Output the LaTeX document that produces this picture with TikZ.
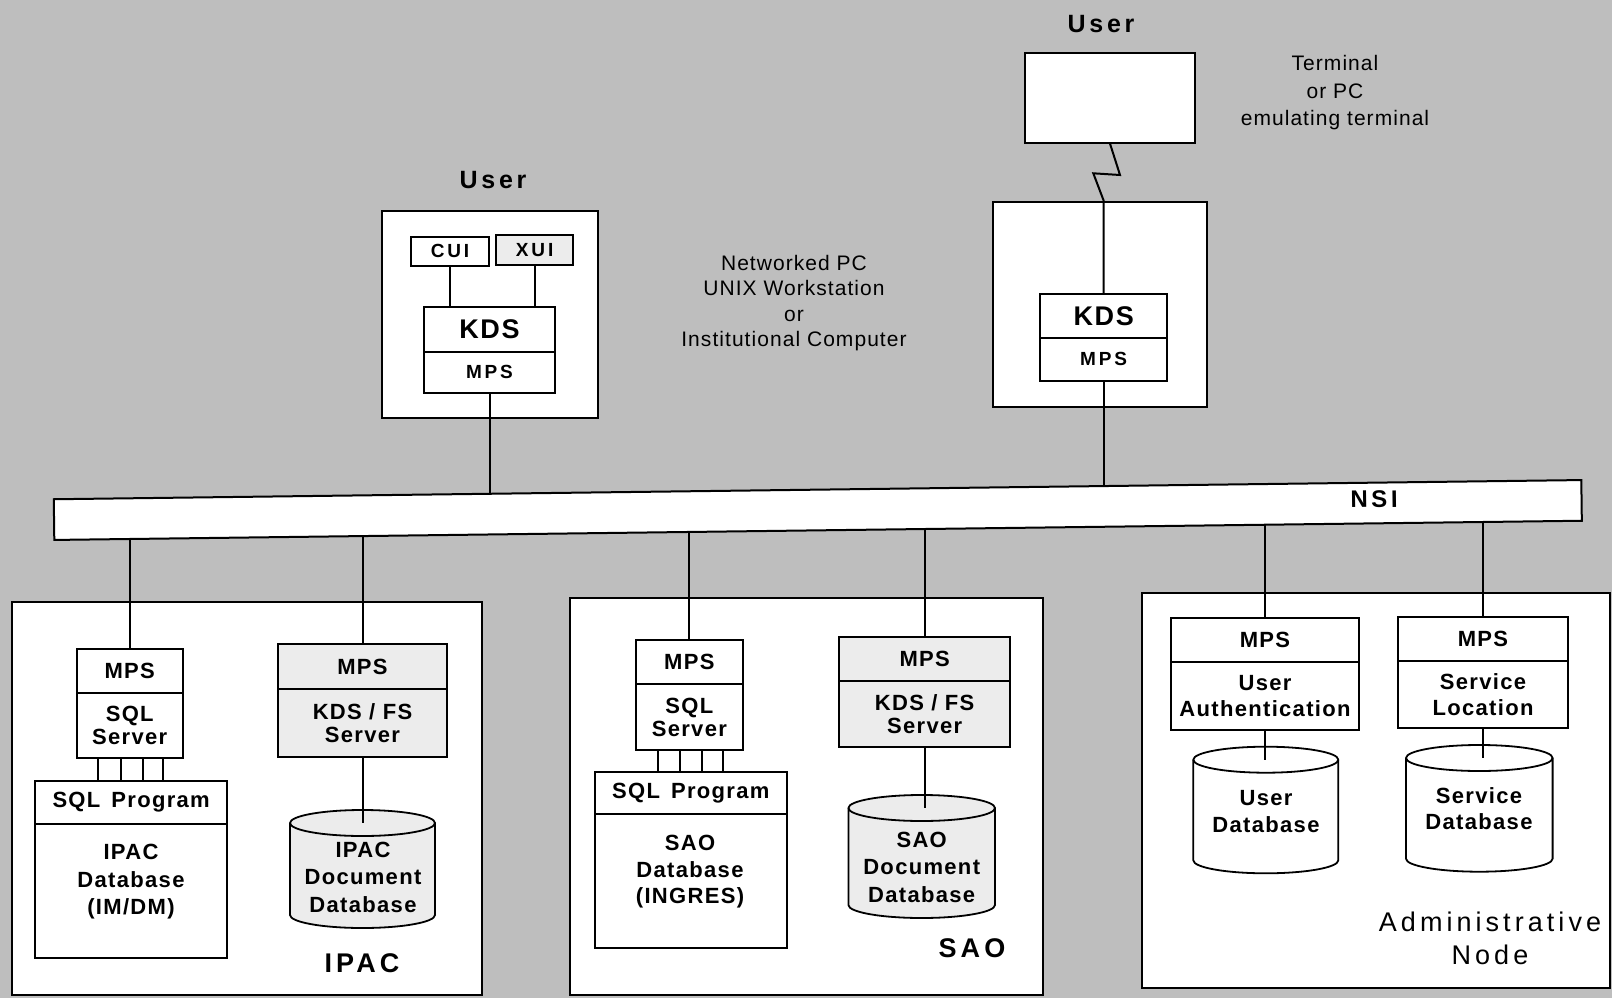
\documentclass[tikz,border=0pt]{standalone}
\usepackage{fontspec}
\setmainfont{Liberation Sans}
\newfontfamily\lblf[LetterSpace=6]{Liberation Sans}
\newfontfamily\widef[LetterSpace=15]{Liberation Sans}
\newfontfamily\thinf[LetterSpace=5]{Liberation Sans}
\usetikzlibrary{calc}
\pgfdeclarelayer{bg}
\pgfdeclarelayer{wires}
\pgfsetlayers{bg,wires,main}
\definecolor{paper}{RGB}{190,190,190}
\definecolor{stipc}{RGB}{236,236,236}
\newcommand\lbl{\lblf\bfseries\fontsize{22}{23}\selectfont}
\newcommand\biglbl{\lblf\bfseries\fontsize{27}{28}\selectfont}
\newcommand\smlbl{\widef\bfseries\fontsize{19}{20}\selectfont}
\newcommand\reglbl{\widef\fontsize{27}{33}\selectfont}
\newcommand\thintxt{\thinf\fontsize{21}{25.6}\selectfont}
\newcommand\bx[7][]{\node[box,minimum width={#4-#3},minimum height={#6-#5},#1] (#2) at ({(#3+#4)/2},{(#5+#6)/2}) {#7};}
\newcommand\dbcyl[6]{%
  \path[draw,line width=1.8pt,fill=#6] ({#2-#5},{#3+13}) -- ({#2-#5},{#4-13})
    arc[start angle=180,end angle=0,x radius=#5,y radius=13] -- ({#2+#5},{#3+13})
    arc[start angle=0,end angle=-180,x radius=#5,y radius=13] -- cycle;
  \draw[line width=1.8pt] ({#2-#5},{#3+13}) arc[start angle=180,end angle=0,x radius=#5,y radius=13];
  \coordinate (#1) at (#2,{#3+13});}
\tikzset{
  box/.style={draw,line width=1.8pt,fill=white,inner sep=0pt,align=center,font=\lbl},
  outer/.style={box,line width=2.2pt},
  wire/.style={line width=2pt},
  txt/.style={inner sep=0pt,align=center},
  stip/.style={fill=stipc},
}
\begin{document}
\begin{tikzpicture}[x=1pt,y=-1pt]
\useasboundingbox (0,0) rectangle (1612,998);
\begin{pgfonlayer}{bg}
\fill[paper] (0,0) rectangle (1612,998);
\bx[outer]{outer1}{381.7}{598.3}{210.7}{418.3}{}
\bx[outer]{outer2}{993.3}{1206.7}{201.7}{406.7}{}
\bx[outer]{ipac}{11.7}{481.7}{601.7}{995}{}
\bx[outer]{sao}{570}{1043.3}{598.3}{995}{}
\bx[outer]{adm}{1141.7}{1610}{593.3}{988.3}{}
\end{pgfonlayer}

% free texts
\node[txt,font=\widef\bfseries\fontsize{25}{25}\selectfont] (user1) at (493,180) {User};
\node[txt,font=\widef\bfseries\fontsize{25}{25}\selectfont] (user2) at (1101,24) {User};
\node[txt,font=\thintxt] (nettxt) at (794,303) {Networked PC\\UNIX Workstation\\or\\Institutional Computer};
\node[txt,font=\thinf\fontsize{21}{27.5}\selectfont] (termtxt) at (1335,93) {Terminal\\or PC\\emulating terminal};

% top-left user machine
\bx[font=\smlbl]{cui}{410.7}{489.3}{236.7}{265.7}{CUI}
\bx[font=\smlbl,stip]{xui}{496}{573.3}{235}{265}{XUI}
\bx[font=\biglbl]{kds1}{424}{555}{306.7}{351.7}{KDS}
\bx[font=\smlbl]{mps1}{424}{555}{351.7}{392.7}{MPS}

% top-right terminal user
\bx{term}{1025}{1195}{53.3}{142.7}{}
\bx[font=\biglbl]{kds2}{1040}{1167.3}{294}{337.7}{KDS}
\bx[font=\smlbl]{mps2}{1040}{1167.3}{337.7}{380.7}{MPS}

% NSI bar
\node[draw,line width=2pt,fill=white,rotate=0.72,minimum width=1527.7,minimum height=40.7,inner sep=0pt] (nsi) at (817.8,510) {};
\node[txt,rotate=0.72,font=\widef\bfseries\fontsize{24}{24}\selectfont] (nsit) at (1374,499) {NSI};

% IPAC
\bx{ipmps}{76.7}{182.7}{649.3}{693.3}{MPS}
\bx{ipsql}{76.7}{182.7}{693.3}{758.3}{SQL\\Server}
\bx{ipprog}{35}{227.3}{780.7}{824.3}{SQL\hspace{0.5em}Program}
\bx{ipdb}{35}{227.3}{824.3}{957.7}{}
\node[txt,font=\lblf\bfseries\fontsize{22}{27.5}\selectfont] (ipdbt) at (131,882) {IPAC\\Database\\(IM/DM)};
\bx[stip]{ipkmps}{278.3}{446.7}{644.3}{689}{MPS}
\bx[stip]{ipkds}{278.3}{446.7}{689}{756.7}{KDS / FS\\Server}
\dbcyl{ipdoc}{362.5}{810}{928}{72.5}{stipc}
\node[txt,font=\lblf\bfseries\fontsize{22}{27.5}\selectfont] (ipdoct) at (363,877) {IPAC\\Document\\Database};
\node[txt,font=\reglbl\bfseries] (ipacl) at (362,963) {IPAC};

% SAO
\bx{smps}{636}{742.7}{640}{684}{MPS}
\bx{ssql}{636}{742.7}{684}{750}{SQL\\Server}
\bx{sprog}{595}{786.7}{771.7}{814}{SQL\hspace{0.5em}Program}
\bx{sdb}{595}{786.7}{814}{948.3}{}
\node[txt,font=\lblf\bfseries\fontsize{22}{26.7}\selectfont] (sdbt) at (690,871.7) {SAO\\Database\\(INGRES)};
\bx[stip]{skmps}{839.3}{1010}{636.7}{680.7}{MPS}
\bx[stip]{skds}{839.3}{1010}{680.7}{747.3}{KDS / FS\\Server}
\dbcyl{sdoc}{921.7}{795}{918}{73.3}{stipc}
\node[txt,font=\lblf\bfseries\fontsize{22}{27.5}\selectfont] (sdoct) at (921.7,867) {SAO\\Document\\Database};
\node[txt,font=\reglbl\bfseries] (saol) at (972,948) {SAO};

% Administrative node
\bx{amps}{1170.7}{1359.3}{618.3}{661.7}{MPS}
\bx[font=\lblf\bfseries\fontsize{22}{25.7}\selectfont]{aua}{1170.7}{1359.3}{661.7}{730}{User\\Authentication}
\bx{bmps}{1397.7}{1568.3}{616.7}{660.7}{MPS}
\bx[font=\lblf\bfseries\fontsize{22}{25.7}\selectfont]{bsl}{1397.7}{1568.3}{660.7}{728.3}{Service\\Location}
\dbcyl{udb}{1265.8}{746.7}{873.3}{72.5}{white}
\node[txt,font=\lblf\bfseries\fontsize{22}{27}\selectfont] (udbt) at (1266,811.5) {User\\Database};
\dbcyl{sdbc}{1479.3}{745}{871.7}{73.3}{white}
\node[txt,font=\lblf\bfseries\fontsize{22}{26}\selectfont] (sdbct) at (1479,809) {Service\\Database};
\node[txt,font=\reglbl] (adml) at (1490,938) {Administrative\\Node};

% connectors to databases (above cylinders)
\draw[wire] (ipkds.south) -- (ipkds.south |- ipdoc);
\draw[wire] (skds.south) -- (skds.south |- sdoc);
\draw[wire] (aua.south) -- (aua.south |- udb);
\draw[wire] (bsl.south) -- (bsl.south |- sdbc);

\begin{pgfonlayer}{wires}
\draw[wire] (cui.south) -- (cui.south |- kds1.north);
\draw[wire] (xui.south) -- (xui.south |- kds1.north);
\draw[wire] (mps1.south) -- (mps1.south |- nsi.center);
\draw[wire] (term.south) -- (1120,175) -- (1093.3,173.3) -- (kds2.north |- outer2.north) -- (kds2.north);
\draw[wire] (mps2.south) -- (mps2.south |- nsi.center);
\foreach \n in {ipmps,ipkmps,smps,skmps,amps,bmps}
  \draw[wire] (\n.north) -- (\n.north |- nsi.center);
\foreach \f in {0.21,0.415,0.62,0.81} {
  \draw[wire] ($(ipsql.south west)!\f!(ipsql.south east)$) coordinate (a) -- (a |- ipprog.north);
  \draw[wire] ($(ssql.south west)!\f!(ssql.south east)$) coordinate (b) -- (b |- sprog.north);
}
\end{pgfonlayer}
\end{tikzpicture}
\end{document}
